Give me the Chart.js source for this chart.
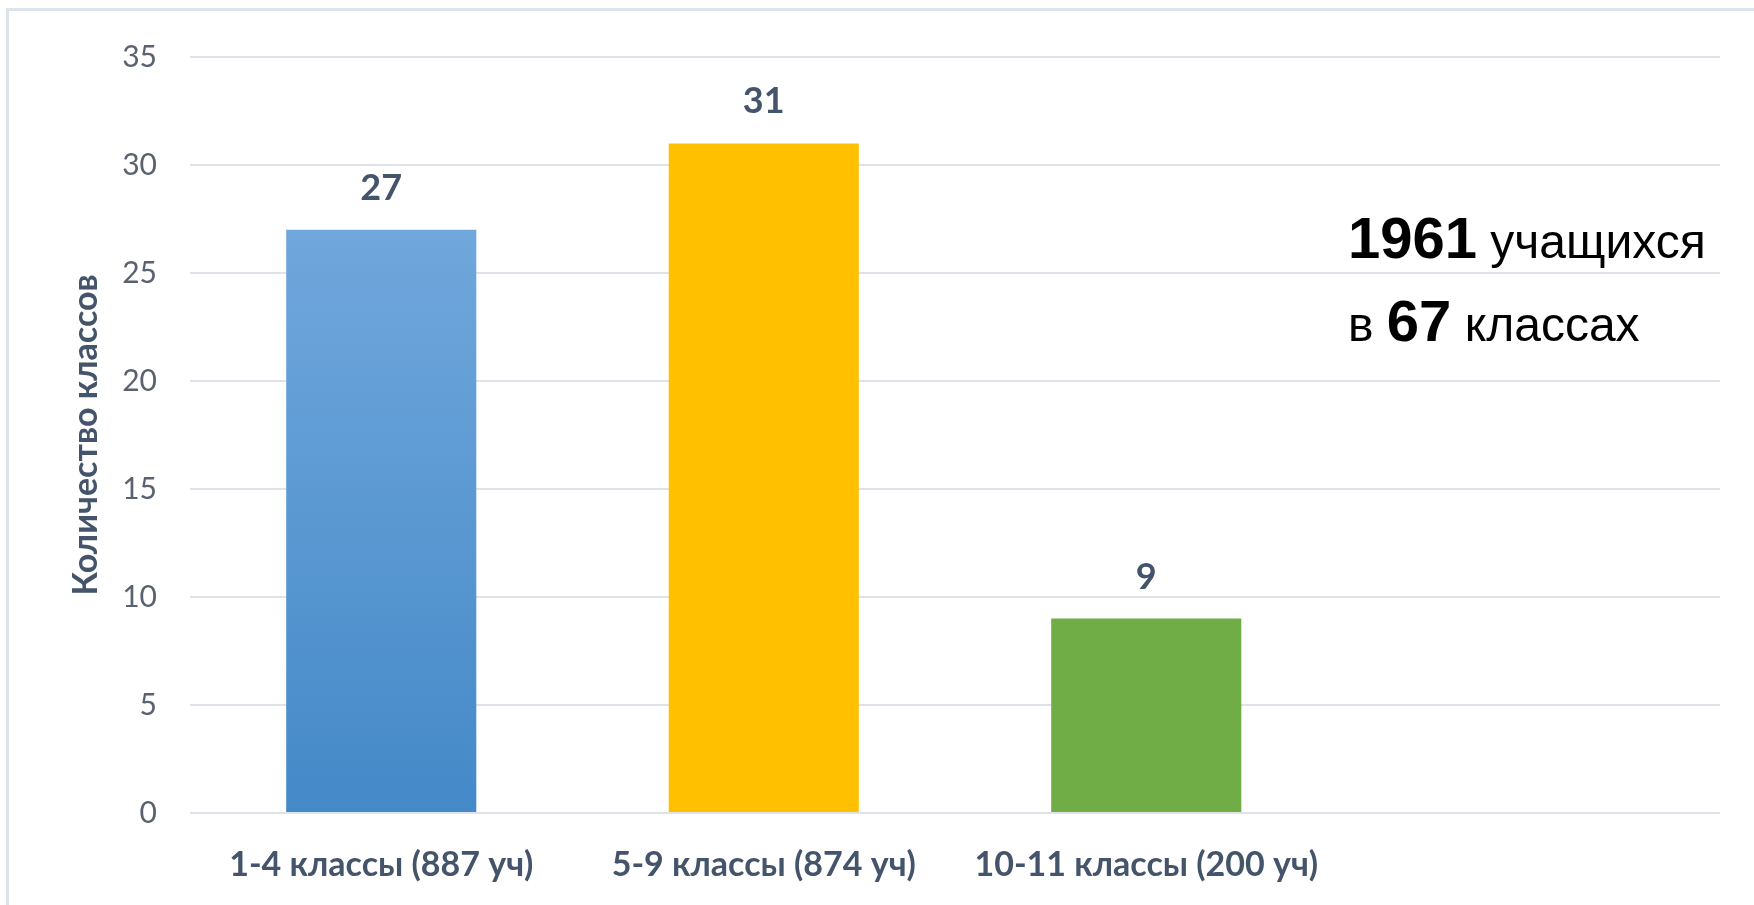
<!DOCTYPE html>
<html><head><meta charset="utf-8">
<script src="https://cdn.jsdelivr.net/npm/chart.js@4.4.0/dist/chart.umd.min.js"></script>
<style>html,body{margin:0;padding:0;background:#fff;} #wrap{position:relative;width:1754px;height:905px;}</style>
</head><body><div id="wrap"><canvas id="c" width="1754" height="905"></canvas></div>
<script>
const categories = ['1-4 классы (887 уч)', '5-9 классы (874 уч)', '10-11 классы (200 уч)', ''];
const classCounts = [27, 31, 9, null];
const yTickValues = [0, 5, 10, 15, 20, 25, 30, 35];
const yTitle = 'Количество классов';
const noteLine1 = [['1961', true], [' учащихся', false]];
const noteLine2 = [['в ', false], ['67', true], [' классах', false]];

const FONT = 'Lato';
const LABEL_COLOR = '#44546a';

function barColor(ctx) {
  const i = ctx.dataIndex;
  if (i === 0) {
    const area = ctx.chart.chartArea;
    if (!area) return '#5b9bd5';
    const g = ctx.chart.ctx.createLinearGradient(0, area.top, 0, area.bottom);
    g.addColorStop(0, '#7db0e2');
    g.addColorStop(1, '#4489c8');
    return g;
  }
  return i === 1 ? '#ffc000' : '#70ad47';
}

const framePlugin = {
  id: 'frame',
  beforeDraw(chart) {
    const c = chart.ctx;
    c.save();
    c.fillStyle = '#ffffff';
    c.fillRect(0, 0, chart.width, chart.height);
    c.fillStyle = '#dde3ea';
    c.fillRect(6, 8, chart.width, 3);
    c.fillRect(6, 8, 3, chart.height);
    c.restore();
  }
};

const valueLabelPlugin = {
  id: 'valueLabels',
  afterDatasetsDraw(chart) {
    const c = chart.ctx;
    const meta = chart.getDatasetMeta(0);
    c.save();
    c.font = 'bold 36px ' + FONT;
    c.fillStyle = LABEL_COLOR;
    c.textAlign = 'center';
    c.textBaseline = 'alphabetic';
    meta.data.forEach((bar, i) => {
      const v = classCounts[i];
      if (v === null || v === undefined) return;
      c.fillText(String(v), bar.x, bar.y - 30);
    });
    c.restore();
  }
};

function drawRuns(c, runs, x, y) {
  runs.forEach(([txt, bold]) => {
    c.font = bold ? 'bold 58px "Liberation Sans"' : '48px "Liberation Sans"';
    c.fillText(txt, x, y);
    x += c.measureText(txt).width;
  });
}

const notePlugin = {
  id: 'note',
  afterDraw(chart) {
    const c = chart.ctx;
    c.save();
    c.fillStyle = '#000000';
    c.textAlign = 'left';
    c.textBaseline = 'alphabetic';
    drawRuns(c, noteLine1, 1348, 258);
    drawRuns(c, noteLine2, 1348, 341);
    c.restore();
  }
};

new Chart(document.getElementById('c'), {
  type: 'bar',
  data: {
    labels: categories,
    datasets: [{
      data: classCounts,
      backgroundColor: barColor,
      borderWidth: 0,
      barPercentage: 0.497,
      categoryPercentage: 1.0
    }]
  },
  options: {
    responsive: false,
    devicePixelRatio: 1,
    animation: false,
    layout: { padding: { top: 57, right: 34, bottom: 0, left: 0 } },
    plugins: { legend: { display: false }, tooltip: { enabled: false } },
    scales: {
      x: {
        grid: { display: false, drawTicks: false },
        border: { display: false },
        ticks: {
          color: LABEL_COLOR,
          font: { family: FONT, size: 34, weight: 'bold' },
          padding: 32,
          maxRotation: 0,
          autoSkip: false
        },
        afterFit(scale) { scale.height = 92; }
      },
      y: {
        min: 0,
        max: 35,
        afterBuildTicks(scale) { scale.ticks = yTickValues.map(v => ({ value: v })); },
        grid: { color: '#dfe3e9', lineWidth: 2, drawTicks: false },
        border: { display: false },
        ticks: {
          color: '#5a6270',
          font: { family: FONT, size: 30 },
          padding: 33
        },
        title: {
          display: true,
          text: yTitle,
          color: LABEL_COLOR,
          font: { family: FONT, size: 34, weight: 'bold' },
          padding: { top: 66, bottom: 0 }
        },
        afterFit(scale) { scale.width = 190; }
      }
    }
  },
  plugins: [framePlugin, valueLabelPlugin, notePlugin]
});
</script>
</body></html>
